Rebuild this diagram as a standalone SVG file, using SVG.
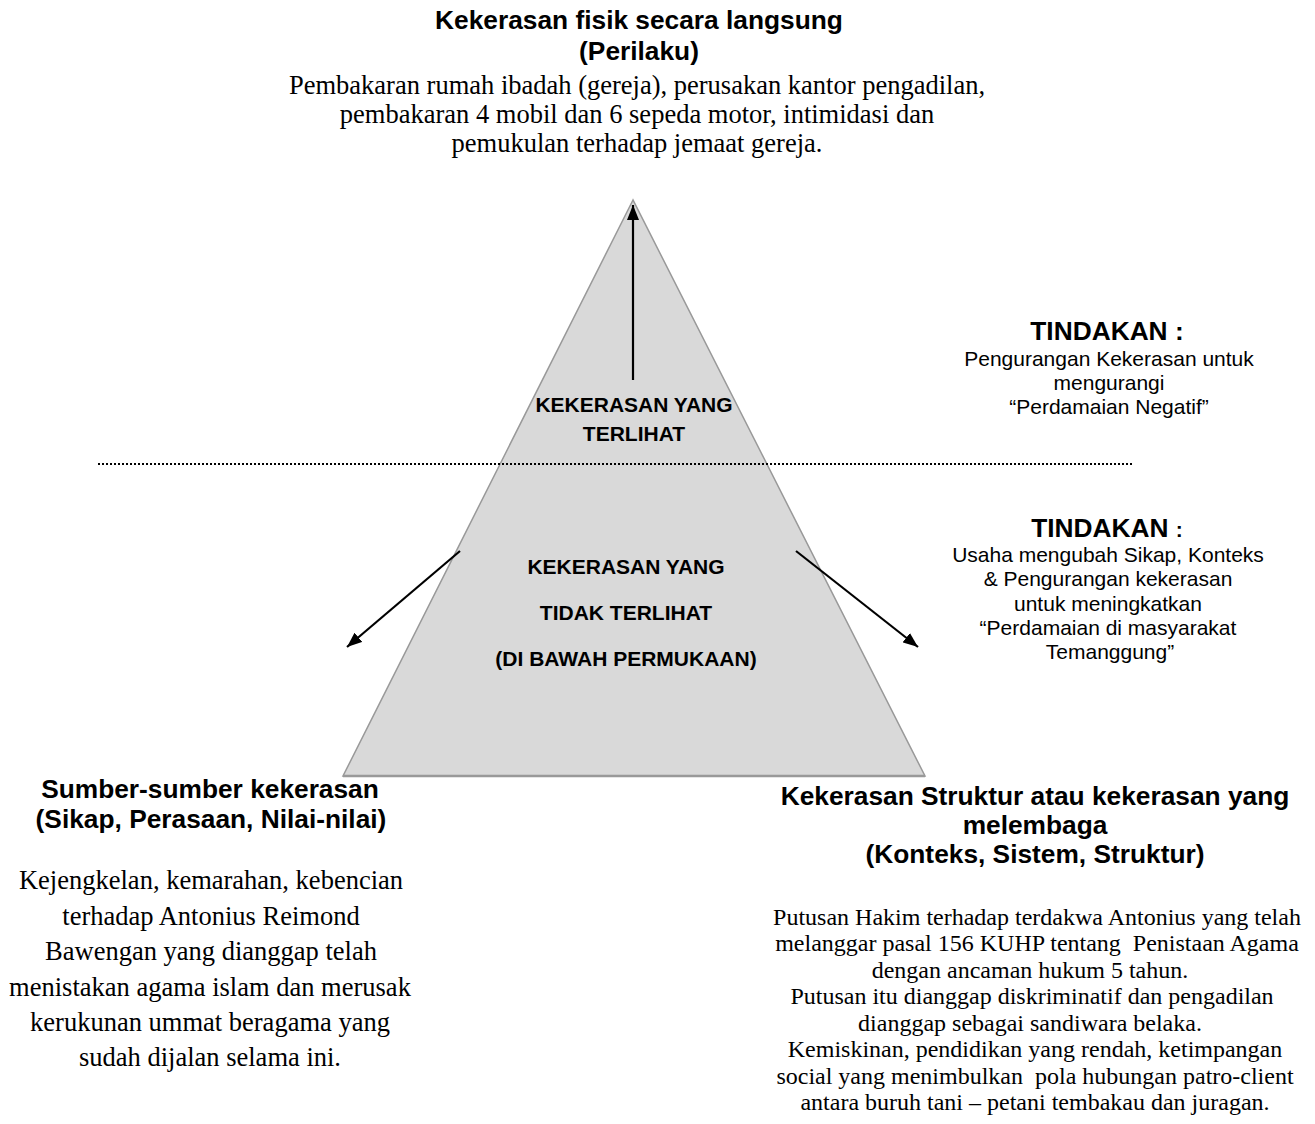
<svg xmlns="http://www.w3.org/2000/svg" width="1315" height="1124" viewBox="0 0 1315 1124">
<defs>
<style>
.h{font-family:"Liberation Sans",Arial,sans-serif;font-weight:bold;font-size:26.3px;fill:#000;text-anchor:middle}
.tl{font-family:"Liberation Sans",Arial,sans-serif;font-weight:bold;font-size:21px;fill:#000;text-anchor:middle}
.s{font-family:"Liberation Sans",Arial,sans-serif;font-size:21px;fill:#000;text-anchor:middle}
.b{font-family:"Liberation Serif","Times New Roman",serif;font-size:26.5px;fill:#000;text-anchor:middle}
.br{font-family:"Liberation Serif","Times New Roman",serif;font-size:24px;fill:#000;text-anchor:middle}
.arr{stroke:#000;stroke-width:2.2;fill:none}
</style>
<marker id="ah" markerUnits="userSpaceOnUse" markerWidth="16" markerHeight="12" refX="15" refY="6" orient="auto">
<path d="M0,0 L15,6 L0,12 z" fill="#000"/>
</marker>
</defs>
<rect width="1315" height="1124" fill="#fff"/>

<g id="pyramid">
<polygon points="633,200 343,776 925,776" fill="#d9d9d9" stroke="#999" stroke-width="1.5"/>
<line x1="343" y1="776" x2="925" y2="776" stroke="#999" stroke-width="2.5"/>
</g>

<g id="waterline">
<line x1="98" y1="464" x2="1132" y2="464" stroke="#000" stroke-width="2" stroke-dasharray="2 2"/>
</g>

<g id="connectors">
<line class="arr" x1="633" y1="380" x2="633" y2="205" marker-end="url(#ah)"/>
<line class="arr" x1="460" y1="551" x2="347" y2="647" marker-end="url(#ah)"/>
<line class="arr" x1="796" y1="551" x2="918" y2="647" marker-end="url(#ah)"/>
</g>

<g id="visible-label">
<text class="tl" x="634" y="412">KEKERASAN YANG</text>
<text class="tl" x="634" y="441">TERLIHAT</text>
</g>

<g id="invisible-label">
<text class="tl" x="626" y="574">KEKERASAN YANG</text>
<text class="tl" x="626" y="620">TIDAK TERLIHAT</text>
<text class="tl" x="626" y="666">(DI BAWAH PERMUKAAN)</text>
</g>

<g id="direct-violence">
<text class="h" x="639" y="29">Kekerasan fisik secara langsung</text>
<text class="h" x="639" y="60">(Perilaku)</text>
<text class="b" x="637" y="94">Pembakaran rumah ibadah (gereja), perusakan kantor pengadilan,</text>
<text class="b" x="637" y="123">pembakaran 4 mobil dan 6 sepeda motor, intimidasi dan</text>
<text class="b" x="637" y="152">pemukulan terhadap jemaat gereja.</text>
</g>

<g id="action-1">
<text class="h" x="1107" y="340">TINDAKAN :</text>
<text class="s" x="1109" y="366">Pengurangan Kekerasan untuk</text>
<text class="s" x="1109" y="390">mengurangi</text>
<text class="s" x="1109" y="414">“Perdamaian Negatif”</text>
</g>

<g id="action-2">
<text class="h" x="1107" y="537">TINDAKAN <tspan font-size="21px">:</tspan></text>
<text class="s" x="1108" y="562">Usaha mengubah Sikap, Konteks</text>
<text class="s" x="1108" y="586">&amp; Pengurangan kekerasan</text>
<text class="s" x="1108" y="611">untuk meningkatkan</text>
<text class="s" x="1108" y="635">“Perdamaian di masyarakat</text>
<text class="s" x="1110" y="659">Temanggung”</text>
</g>

<g id="sources">
<text class="h" x="210" y="798">Sumber-sumber kekerasan</text>
<text class="h" x="211" y="828">(Sikap, Perasaan, Nilai-nilai)</text>
<text class="b" x="211" y="889">Kejengkelan, kemarahan, kebencian</text>
<text class="b" x="211" y="925">terhadap Antonius Reimond</text>
<text class="b" x="211" y="960">Bawengan yang dianggap telah</text>
<text class="b" x="210" y="996">menistakan agama islam dan merusak</text>
<text class="b" x="210" y="1031">kerukunan ummat beragama yang</text>
<text class="b" x="210" y="1066">sudah dijalan selama ini.</text>
</g>

<g id="structural">
<text class="h" x="1035" y="805">Kekerasan Struktur atau kekerasan yang</text>
<text class="h" x="1035" y="834">melembaga</text>
<text class="h" x="1035" y="863">(Konteks, Sistem, Struktur)</text>
<text class="br" x="1037" y="925">Putusan Hakim terhadap terdakwa Antonius yang telah</text>
<text class="br" x="1037" y="951" xml:space="preserve">melanggar pasal 156 KUHP tentang  Penistaan Agama</text>
<text class="br" x="1030" y="978">dengan ancaman hukum 5 tahun.</text>
<text class="br" x="1032" y="1004">Putusan itu dianggap diskriminatif dan pengadilan</text>
<text class="br" x="1030" y="1031">dianggap sebagai sandiwara belaka.</text>
<text class="br" x="1035" y="1057">Kemiskinan, pendidikan yang rendah, ketimpangan</text>
<text class="br" x="1035" y="1084" xml:space="preserve">social yang menimbulkan  pola hubungan patro-client</text>
<text class="br" x="1035" y="1110">antara buruh tani – petani tembakau dan juragan.</text>
</g>
</svg>
